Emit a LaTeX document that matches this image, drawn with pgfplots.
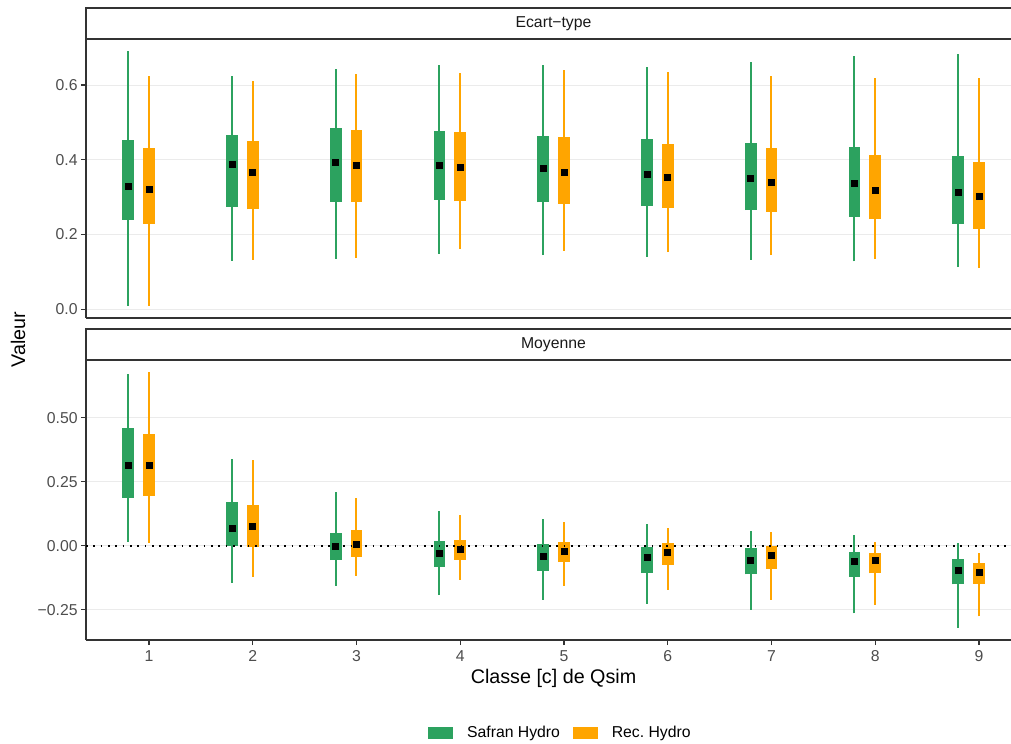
\documentclass[border=0pt]{standalone}
\usepackage{pgfplots}
\pgfplotsset{compat=1.18}
\usepackage{pgfplotstable}
\usepackage{fontspec}
\setmainfont{Liberation Sans}
\definecolor{sgreen}{HTML}{2CA25F}
\definecolor{rorange}{HTML}{FFA500}
\definecolor{tgrey}{HTML}{4D4D4D}
\definecolor{gridgrey}{HTML}{EBEBEB}
\definecolor{axgrey}{HTML}{333333}

% Ecart-type
\pgfplotstableread{
x lo q1 mean q3 hi
1 0.009 0.239 0.328 0.453 0.691
2 0.130 0.274 0.387 0.467 0.625
3 0.135 0.288 0.392 0.485 0.643
4 0.149 0.293 0.385 0.477 0.653
5 0.145 0.286 0.376 0.463 0.653
6 0.140 0.277 0.361 0.456 0.648
7 0.133 0.265 0.350 0.445 0.661
8 0.128 0.248 0.336 0.435 0.677
9 0.113 0.229 0.312 0.410 0.682
}\sdGreen
\pgfplotstableread{
x lo q1 mean q3 hi
1 0.009 0.228 0.320 0.431 0.623
2 0.132 0.267 0.366 0.451 0.612
3 0.137 0.287 0.386 0.480 0.629
4 0.161 0.289 0.381 0.475 0.632
5 0.156 0.282 0.366 0.460 0.639
6 0.153 0.272 0.352 0.443 0.634
7 0.145 0.261 0.339 0.431 0.623
8 0.134 0.241 0.318 0.414 0.618
9 0.110 0.216 0.301 0.395 0.618
}\sdOrange
% Moyenne
\pgfplotstableread{
x lo q1 mean q3 hi
1 0.016 0.188 0.315 0.461 0.671
2 -0.144 -0.001 0.069 0.169 0.340
3 -0.157 -0.056 -0.001 0.051 0.211
4 -0.193 -0.082 -0.029 0.020 0.137
5 -0.212 -0.098 -0.040 0.008 0.104
6 -0.226 -0.107 -0.047 -0.005 0.086
7 -0.250 -0.112 -0.056 -0.010 0.059
8 -0.264 -0.121 -0.062 -0.026 0.041
9 -0.320 -0.151 -0.095 -0.051 0.011
}\mGreen
\pgfplotstableread{
x lo q1 mean q3 hi
1 0.012 0.195 0.315 0.436 0.677
2 -0.122 -0.006 0.077 0.160 0.335
3 -0.117 -0.043 0.004 0.061 0.185
4 -0.134 -0.055 -0.013 0.022 0.119
5 -0.156 -0.064 -0.023 0.013 0.091
6 -0.173 -0.074 -0.027 0.010 0.068
7 -0.211 -0.090 -0.039 0.000 0.055
8 -0.230 -0.108 -0.059 -0.027 0.016
9 -0.276 -0.148 -0.103 -0.069 -0.030
}\mOrange

\newcommand\whiskbox[3]{%
  \addplot[forget plot, draw=none, no markers, error bars/.cd, y dir=plus, y explicit, error mark=none,
    error bar style={draw=#2, line width=1.1pt}]
    table[x expr=\thisrow{x}+(#3), y=lo, y error expr=\thisrow{hi}-\thisrow{lo}] {#1};
  \addplot[forget plot, draw=none, no markers, error bars/.cd, y dir=plus, y explicit, error mark=none,
    error bar style={draw=#2, line width=6.5pt}]
    table[x expr=\thisrow{x}+(#3), y=q1, y error expr=\thisrow{q3}-\thisrow{q1}] {#1};
}
\newcommand\meanpts[2]{%
  \addplot[forget plot, only marks, mark=square*, mark size=1.67pt, black, mark options={draw=none, fill=black}]
    table[x expr=\thisrow{x}+(#2), y=mean] {#1};
}

\pgfplotsset{
  panel/.style={
    scale only axis, width=516.15pt, xmin=0.393, xmax=9.309,
    axis lines*=left, axis line style={axgrey, line width=0.75pt, -},
    tick align=outside, major tick length=2.8pt, tick style={axgrey, line width=0.75pt},
    ymajorgrids, major grid style={gridgrey, line width=0.55pt},
    tick label style={font=\fontsize{8.8}{10.5}\selectfont, text=tgrey},
    yticklabel style={inner xsep=1.7pt},
    xticklabel style={inner ysep=2.8pt},
  }
}

\begin{document}
\begin{tikzpicture}[x=0.558pt, y=-0.558pt]
\useasboundingbox (0,0) rectangle (1011,744);

% top panel
\begin{axis}[panel, at={(47.99pt,-21.76pt)}, anchor=north west, height=155.68pt,
  ymin=-0.0233, ymax=0.7231, ytick={0,0.2,0.4,0.6}, yticklabels={0.0,0.2,0.4,0.6},
  xtick=\empty]
  \whiskbox{\sdGreen}{sgreen}{-0.2}
  \whiskbox{\sdOrange}{rorange}{0}
  \meanpts{\sdGreen}{-0.2}
  \meanpts{\sdOrange}{0}
\end{axis}

% bottom panel
\begin{axis}[panel, at={(47.99pt,-200.88pt)}, anchor=north west, height=156.24pt,
  ymin=-0.3684, ymax=0.7254, ytick={-0.25,0,0.25,0.5}, yticklabels={−0.25,0.00,0.25,0.50},
  xtick={1,...,9}, xticklabels={1,2,3,4,5,6,7,8,9},
  legend image code/.code={\fill[#1, draw=none] (0pt,-3.35pt) rectangle (14pt,3.35pt);},
  legend columns=2,
  legend style={draw=none, fill=none, at={(0.5119,-0.3321)}, anchor=center,
    font=\fontsize{8.8}{10.5}\selectfont, text=black, nodes={inner xsep=0pt},
    /tikz/every odd column/.append style={column sep=7.6pt},
    /tikz/every even column/.append style={column sep=7.3pt}}]
  \addlegendimage{fill=sgreen, draw=none}\addlegendentry{Safran Hydro}
  \addlegendimage{fill=rorange, draw=none}\addlegendentry{Rec.\ Hydro}
  \whiskbox{\mGreen}{sgreen}{-0.2}
  \whiskbox{\mOrange}{rorange}{0}
  \addplot[forget plot, black, line width=0.95pt, dash pattern=on 0.95pt off 3.15pt] coordinates {(0.393,0) (9.309,0)};
  \meanpts{\mGreen}{-0.2}
  \meanpts{\mOrange}{0}
\end{axis}

% strips
\draw[axgrey, line width=0.75pt] (86,8) rectangle (1030,39);
\draw[axgrey, line width=0.75pt] (86,329) rectangle (1030,360);
\node[font=\fontsize{8.8}{10.5}\selectfont, text={black!90}] at (553.5,23.5) {Ecart−type};
\node[font=\fontsize{8.8}{10.5}\selectfont, text={black!90}] at (553.5,344.5) {Moyenne};
% axis titles
\node[font=\fontsize{11}{13}\selectfont, rotate=90] at (18,339.5) {Valeur};
\node[font=\fontsize{11}{13}\selectfont] at (553.5,678) {Classe [c] de Qsim};
\end{tikzpicture}
\end{document}
